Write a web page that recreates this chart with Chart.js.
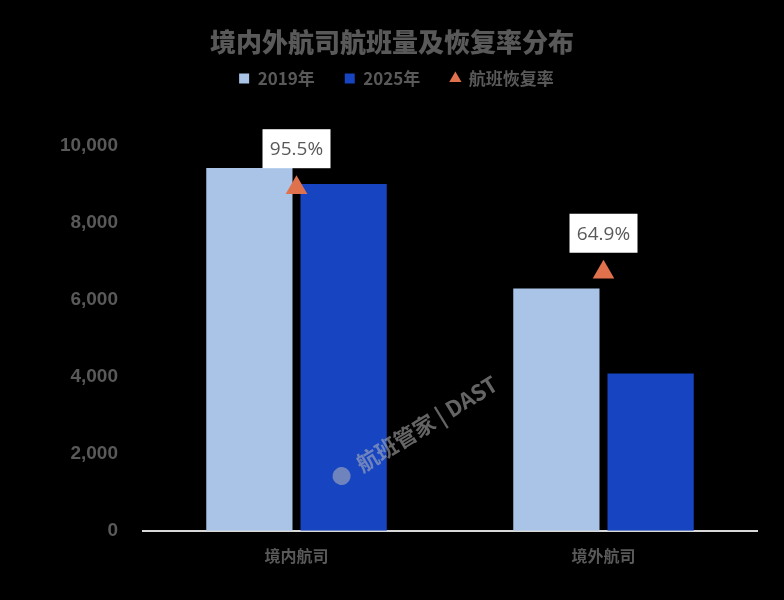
<!DOCTYPE html>
<html>
<head>
<meta charset="utf-8">
<script src="https://cdn.jsdelivr.net/npm/chart.js@4"></script>
<style>
  html, body { margin:0; padding:0; background:#000; }
  #wrap { width:784px; height:600px; }
</style>
</head>
<body>
<div id="wrap"><canvas id="flightChart" width="784" height="600"></canvas></div>
<script>
const categories = ['境内航司', '境外航司'];
const flights2019 = [9430, 6300];
const flights2025 = [9010, 4090];
const recoveryRate = [95.5, 64.9];
const yTicks = [0, 2000, 4000, 6000, 8000, 10000];
const seriesNames = ['2019年', '2025年', '航班恢复率'];
const chartTitle = '境内外航司航班量及恢复率分布';
const watermark = '航班管家 | DAST';

const grey = '#595959';
const cjk = '"Noto Sans CJK SC", "Noto Sans", sans-serif';

// title drawn by hand so the legend can sit right under it
const titlePlugin = {
  id: 'titleText',
  afterDraw(chart) {
    const ctx = chart.ctx;
    ctx.save();
    ctx.fillStyle = grey;
    ctx.font = '900 26px ' + cjk;
    ctx.textAlign = 'center';
    ctx.textBaseline = 'middle';
    ctx.fillText(chartTitle, 392, 42);
    ctx.restore();
  }
};

// push the plot area down below the legend, nudge legend to the page centre
const legendGap = {
  id: 'legendGap',
  beforeInit(chart) {
    const lg = chart.legend;
    const fit = lg.fit;
    lg.fit = function() { fit.call(this); this.height += 49; };
    const draw = lg.draw;
    lg.draw = function() {
      this.ctx.save();
      this.ctx.translate(18, 0);
      draw.call(this);
      this.ctx.restore();
    };
  }
};

// white boxes with the rate above each triangle
const rateLabels = {
  id: 'rateLabels',
  afterDatasetsDraw(chart) {
    const ctx = chart.ctx;
    const meta = chart.getDatasetMeta(2);
    ctx.save();
    ctx.font = '19px "Open Sans", "Noto Sans", sans-serif';
    ctx.textAlign = 'center';
    ctx.textBaseline = 'middle';
    meta.data.forEach((pt, i) => {
      const cx = pt.x, cy = pt.y - 39;
      ctx.fillStyle = '#fff';
      ctx.fillRect(cx - 34, cy - 19.5, 68, 39);
      ctx.fillStyle = grey;
      ctx.fillText(recoveryRate[i].toFixed(1) + '%', cx, cy + 1);
    });
    // watermark
    ctx.translate(420, 428);
    ctx.rotate(-31.5 * Math.PI / 180);
    ctx.globalAlpha = 0.55;
    ctx.fillStyle = '#b8b8b8';
    ctx.font = 'bold 22px ' + cjk;
    ctx.fillText(watermark, 8, 0);
    ctx.beginPath();
    ctx.arc(-92, 0, 9, 0, Math.PI * 2);
    ctx.fill();
    ctx.restore();
  }
};

new Chart(document.getElementById('flightChart'), {
  data: {
    labels: categories,
    datasets: [
      { type: 'bar', label: seriesNames[0], data: flights2019, backgroundColor: '#a9c4e7', pointStyle: 'rect',
        categoryPercentage: 0.614, barPercentage: 0.915, yAxisID: 'y', order: 2 },
      { type: 'bar', label: seriesNames[1], data: flights2025, backgroundColor: '#1745c1', pointStyle: 'rect',
        categoryPercentage: 0.614, barPercentage: 0.915, yAxisID: 'y', order: 2 },
      { type: 'line', label: seriesNames[2], data: recoveryRate, showLine: false, pointStyle: 'triangle',
        pointRadius: 12.5, pointHoverRadius: 12.5, backgroundColor: '#e0714d', borderColor: '#e0714d', borderWidth: 0,
        yAxisID: 'y2', order: 1 }
    ]
  },
  options: {
    responsive: false,
    animation: false,
    devicePixelRatio: 1,
    layout: { padding: { top: 40, left: 0, right: 27, bottom: 18 } },
    plugins: {
      title: { display: false },
      tooltip: { enabled: false },
      legend: {
        display: true,
        labels: {
          usePointStyle: true, boxHeight: 10, boxWidth: 10, padding: 30,
          color: grey, font: { family: cjk, size: 17, weight: 'bold' },
          sort: (a, b) => a.datasetIndex - b.datasetIndex
        }
      }
    },
    scales: {
      x: {
        grid: { display: false, drawTicks: false },
        border: { display: true, color: '#d9d9d9', width: 2 },
        ticks: { color: grey, padding: 16, font: { family: cjk, size: 16, weight: 'bold' } }
      },
      y: {
        min: 0, max: 10000,
        afterBuildTicks: s => { s.ticks = yTicks.map(v => ({ value: v })); },
        afterFit: s => { s.width = 143; },
        grid: { display: false, drawTicks: false },
        border: { display: false },
        ticks: {
          color: grey, padding: 25,
          font: { family: '"Liberation Sans", Arial, sans-serif', size: 19, weight: 'bold' },
          callback: v => v.toLocaleString('en-US')
        }
      },
      y2: { display: false, min: -28.7, max: 110.6 }
    }
  },
  plugins: [titlePlugin, legendGap, rateLabels]
});
</script>
</body>
</html>
